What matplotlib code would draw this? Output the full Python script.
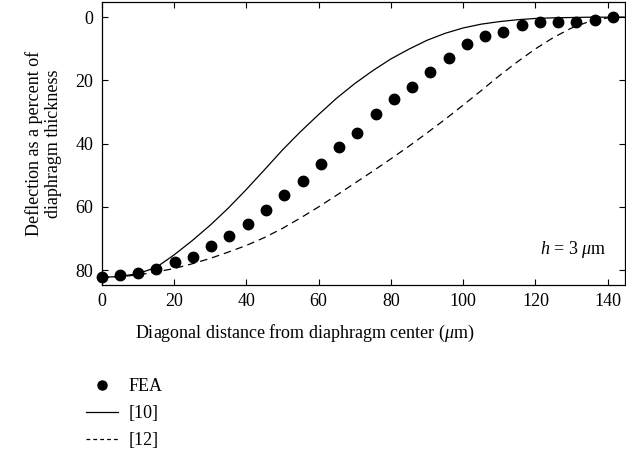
import matplotlib
matplotlib.use("Agg")
import matplotlib.pyplot as plt
from matplotlib.lines import Line2D

plt.rcParams['font.family'] = ['Liberation Serif', 'DejaVu Serif']
plt.rcParams['mathtext.fontset'] = 'custom'
plt.rcParams['mathtext.rm'] = 'Liberation Serif'
plt.rcParams['mathtext.it'] = 'Liberation Serif:italic'

# FEA points
fea_x = [0, 5.05, 10.1, 15.15, 20.2, 25.25, 30.3, 35.35, 40.4, 45.45, 50.5, 55.55,
         60.6, 65.65, 70.7, 75.75, 80.8, 85.85, 90.9, 95.95, 101.0, 106.05, 111.1,
         116.15, 121.2, 126.25, 131.3, 136.35, 141.4]
fea_y = [82.3, 81.6, 81.0, 79.7, 77.4, 75.8, 72.4, 69.1, 65.4, 61.1, 56.3, 51.8,
         46.3, 41.0, 36.5, 30.5, 25.8, 22.0, 17.2, 12.9, 8.5, 5.8, 4.6,
         2.5, 1.5, 1.6, 1.6, 0.9, 0.0]

# model curves
curve_x = [0, 5, 10, 15, 20, 25, 30, 35, 40, 45, 50, 55, 60, 65, 70, 75, 80, 85,
           90, 95, 100, 105, 110, 115, 120, 125, 130, 135, 140, 145]
ref10_y = [82.3, 82.0, 81.1, 79.2, 75.2, 70.7, 65.8, 60.4, 54.5, 48.3, 42.0, 36.2,
           30.8, 25.6, 21.0, 16.9, 13.2, 10.1, 7.3, 5.1, 3.4, 2.2, 1.4, 0.8,
           0.4, 0.2, 0.1, 0.0, 0.0, 0.0]
ref12_y = [82.3, 82.1, 81.5, 80.6, 79.5, 78.0, 76.3, 74.3, 72.2, 69.7, 66.8, 63.5,
           60.0, 56.3, 52.5, 48.7, 44.8, 40.8, 36.6, 32.3, 27.8, 23.2, 18.5, 14.1,
           10.0, 6.4, 3.4, 1.3, 0.2, 0.0]

x_ticks = [0, 20, 40, 60, 80, 100, 120, 140]
y_ticks = [0, 20, 40, 60, 80]

W, H = 626, 453
fig = plt.figure(figsize=(W / 100, H / 100), dpi=100)
ax = fig.add_axes([101.7 / W, 1 - 285 / H, (625.5 - 101.7) / W, (285 - 1.7) / H])

ax.plot(curve_x, ref10_y, color='black', lw=0.9, solid_capstyle='butt')
ax.plot(curve_x, ref12_y, color='black', lw=0.9, linestyle=(0, (6, 4)))
ax.plot(fea_x, fea_y, 'o', color='black', markersize=7.5, clip_on=False, zorder=5)

ax.set_xlim(0, 144.9)
ax.set_ylim(84.7, -4.9)
ax.set_xticks(x_ticks)
ax.set_yticks(y_ticks)
ax.tick_params(direction='in', top=True, right=True, length=4, width=0.8,
               labelsize=13, pad=6)
for s in ax.spines.values():
    s.set_linewidth(0.9)

ax.set_xlabel('Diagonal distance from diaphragm center ($\\mu$m)', fontsize=13, labelpad=12)
ax.xaxis.set_label_coords((305 - 101.7) / (625.5 - 101.7), -0.135)
ax.set_ylabel('Deflection as a percent of\ndiaphragm thickness', fontsize=13,
              labelpad=10, linespacing=1.15)

ax.text(139.5, 73.6, '$h$ = 3 $\\mu$m', fontsize=13, ha='right', va='center')

handles = [Line2D([], [], marker='o', color='black', linestyle='none', markersize=6.5),
           Line2D([], [], color='black', lw=0.9),
           Line2D([], [], color='black', lw=0.9, linestyle=(0, (3, 2.5)))]
fig.legend(handles, ['FEA', '[10]', '[12]'], loc='upper left',
           bbox_to_anchor=(86 / W, 1 - 378 / H), frameon=False, fontsize=13,
           handlelength=1.75, handletextpad=0.6, labelspacing=0.55, borderaxespad=0,
           borderpad=0)

fig.savefig('out.png', dpi=100)
